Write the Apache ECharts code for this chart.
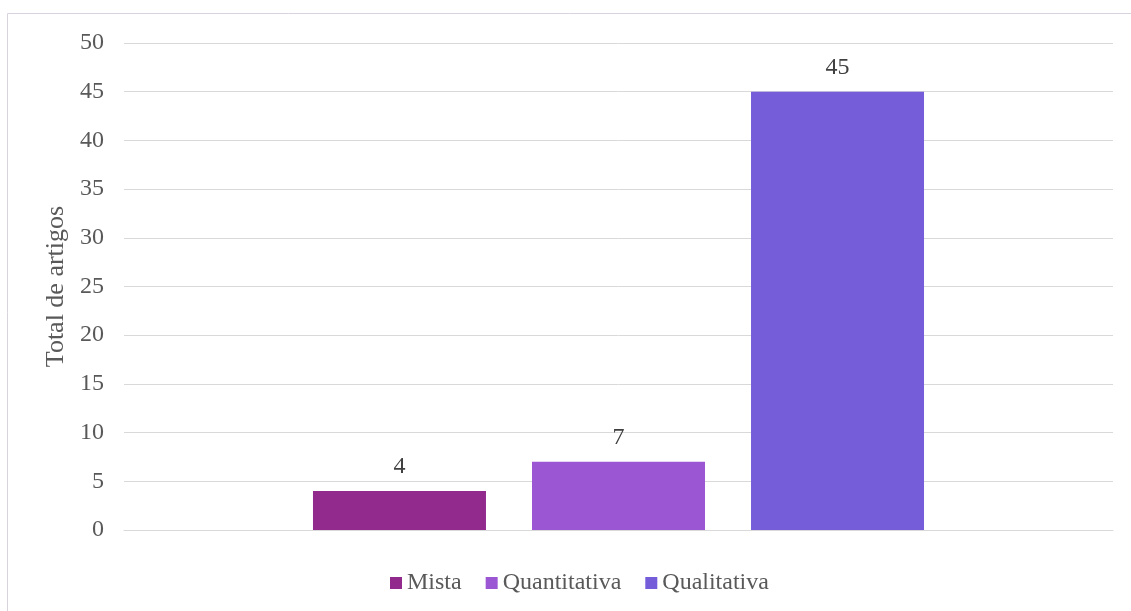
<!DOCTYPE html>
<html>
<head>
<meta charset="utf-8">
<script src="https://cdn.jsdelivr.net/npm/echarts@6/dist/echarts.min.js"></script>
<style>
  html, body { margin: 0; padding: 0; background: #fff; }
  #chart { width: 1131px; height: 611px; }
</style>
</head>
<body>
<div id="chart"></div>
<script>
// dados do gráfico
var categorias = ['Total'];
var nomesSeries = ['Mista', 'Quantitativa', 'Qualitativa'];
var valoresMista = [4];
var valoresQuantitativa = [7];
var valoresQualitativa = [45];
var cores = ['#922a8d', '#9b57d3', '#755dd9'];

var chart = echarts.init(document.getElementById('chart'));

var fonte = 'Liberation Serif, Times New Roman, serif';
var listaValores = [valoresMista, valoresQuantitativa, valoresQualitativa];

var series = [];
for (var i = 0; i < nomesSeries.length; i++) {
    series.push({
        name: nomesSeries[i],
        type: 'bar',
        data: listaValores[i],
        barWidth: 173,
        barGap: '26.6%',
        itemStyle: { color: cores[i] },
        label: {
            show: true,
            position: 'top',
            distance: 12,
            color: '#404040',
            fontFamily: fonte,
            fontSize: 24
        }
    });
}

var option = {
    animation: false,
    textStyle: { fontFamily: fonte },
    graphic: [{
        type: 'rect',
        shape: { x: 7.5, y: 13.5, width: 1130, height: 610 },
        style: { fill: 'none', stroke: '#d9d3de', lineWidth: 1 },
        silent: true
    }],
    grid: { left: 124, right: 18, top: 43, bottom: 81 },
    legend: {
        bottom: 11,
        left: 385,
        itemWidth: 12,
        itemHeight: 12,
        itemGap: 24,
        icon: 'rect',
        textStyle: { color: '#595959', fontFamily: fonte, fontSize: 24 },
        data: nomesSeries
    },
    xAxis: {
        type: 'category',
        data: categorias,
        axisLine: { show: true, lineStyle: { color: '#d9d9d9', width: 1 } },
        axisTick: { show: false },
        axisLabel: { show: false }
    },
    yAxis: {
        type: 'value',
        min: 0,
        max: 50,
        interval: 5,
        name: 'Total de artigos',
        nameLocation: 'middle',
        nameGap: 52,
        nameTextStyle: { color: '#595959', fontFamily: fonte, fontSize: 26 },
        axisLine: { show: false },
        axisTick: { show: false },
        axisLabel: { color: '#595959', fontFamily: fonte, fontSize: 24, margin: 20 },
        splitLine: { lineStyle: { color: '#d9d9d9', width: 1 } }
    },
    series: series
};

chart.setOption(option);
</script>
</body>
</html>
